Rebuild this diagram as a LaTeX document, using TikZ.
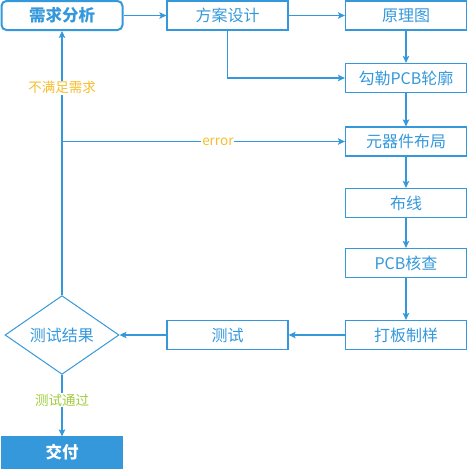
\documentclass[tikz,border=0pt]{standalone}
\usepackage{fontspec}
\setmainfont{Noto Sans CJK SC}
\usetikzlibrary{arrows.meta,shapes.geometric}
\definecolor{myblue}{HTML}{3498DB}
\definecolor{myyellow}{HTML}{F7BE2E}
\definecolor{mygreen}{HTML}{A2CC3E}
\tikzset{
  box/.style={draw=myblue, line width=1.2pt, minimum width=121pt, minimum height=29pt, inner sep=0pt, text=myblue, font=\fontsize{16}{16}\selectfont},
  startbox/.style={box, line width=2pt, rounded corners=5pt, font=\fontsize{16.5}{16.5}\selectfont\bfseries},
  endbox/.style={box, fill=myblue, text=white, minimum height=31pt, font=\fontsize{16.5}{16.5}\selectfont\bfseries},
  decision/.style={diamond, draw=myblue, line width=1pt, minimum width=114pt, minimum height=78pt, inner sep=0pt, text=myblue, font=\fontsize{16}{16}\selectfont},
  arr/.style={draw=myblue, line width=1.2pt, -{Stealth[length=7pt,width=6.5pt,inset=1.5pt]}},
  lbl/.style={fill=white, inner sep=1pt, font=\fontsize{13.5}{13.5}\selectfont},
}
\begin{document}
\begin{tikzpicture}[x=1pt,y=-1pt]
\useasboundingbox (0,0) rectangle (468,469);
\node[startbox] (xq) at (62,15.5) {需求分析};
\node[box] (fa) at (227.5,15.5) {方案设计};
\node[box] (yl) at (406,15.5) {原理图};
\node[box] (gl) at (406,78) {勾勒PCB轮廓};
\node[box] (yq) at (406,141.5) {元器件布局};
\node[box] (bx) at (406,203) {布线};
\node[box] (hc) at (406,263) {PCB核查};
\node[box] (db) at (406,335) {打板制样};
\node[box] (cs) at (227.5,335) {测试};
\node[decision] (jg) at (62,335) {测试结果};
\node[endbox] (jf) at (62,452.5) {交付};
\coordinate (br) at (62,141.5);

\draw[arr] (xq) -- (fa);
\draw[arr] (fa) -- (yl);
\draw[arr] (fa.south) |- (gl.west);
\draw[arr] (yl) -- (gl);
\draw[arr] (gl) -- (yq);
\draw[arr] (yq) -- (bx);
\draw[arr] (bx) -- (hc);
\draw[arr] (hc) -- (db);
\draw[arr] (db) -- (cs);
\draw[arr] (cs) -- (jg);
\draw[arr] (jg.north) -- node[lbl, text=myyellow, pos=0.785] {不满足需求} (xq.south);
\draw[arr] (br) -- node[lbl, text=myyellow, pos=0.551] {error} (yq.west);
\draw[arr] (jg.south) -- node[lbl, text=mygreen, pos=0.41] {测试通过} (jf.north);
\end{tikzpicture}
\end{document}
